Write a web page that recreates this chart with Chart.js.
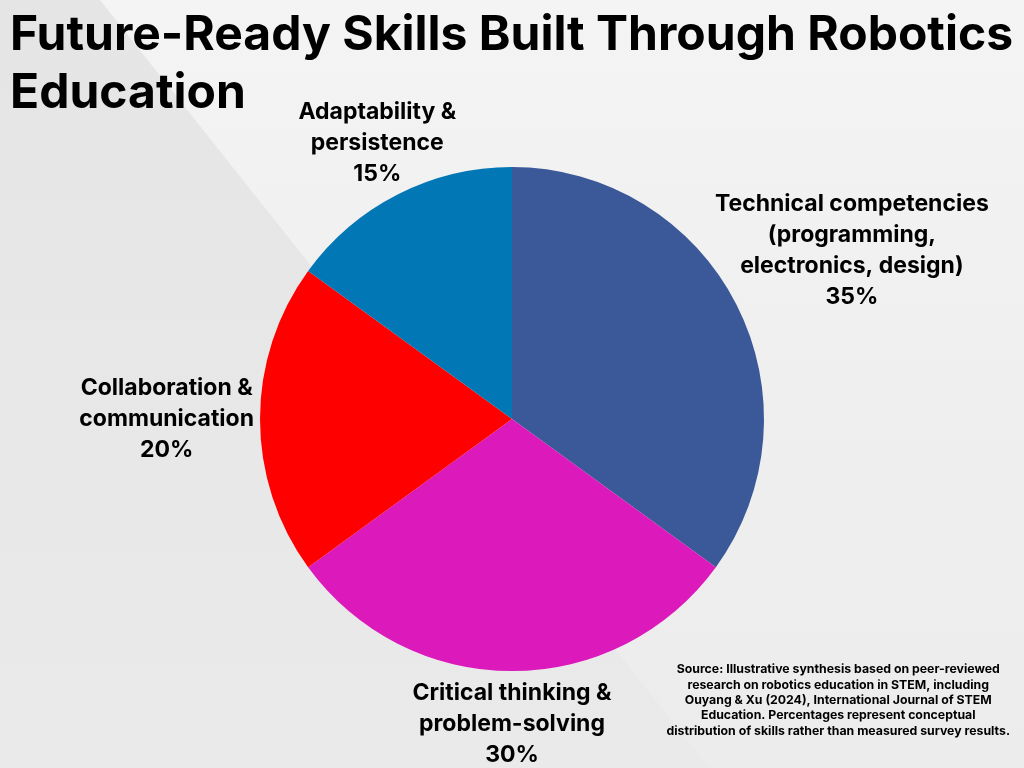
<!DOCTYPE html>
<html><head><meta charset="utf-8">
<script src="https://cdn.jsdelivr.net/npm/chart.js@4.4.0/dist/chart.umd.min.js"></script>
<style>html,body{margin:0;padding:0;background:#ececec;overflow:hidden}#wrap{width:1024px;height:768px;position:relative}</style>
</head><body><div id="wrap"><canvas id="c" width="1024" height="768"></canvas></div>
<script>
// ---- data ----
const categories = [
  ["Technical competencies", "(programming,", "electronics, design)"],
  ["Critical thinking &", "problem-solving"],
  ["Collaboration &", "communication"],
  ["Adaptability &", "persistence"]
];
const shares = [35, 30, 20, 15];
const sliceColors = ["#3B5998", "#DC1ABC", "#FF0000", "#0277B6"];
const titleLines = ["Future-Ready Skills Built Through Robotics", "Education"];
const sourceLines = [
  "Source: Illustrative synthesis based on peer-reviewed",
  "research on robotics education in STEM, including",
  "Ouyang & Xu (2024), International Journal of STEM",
  "Education. Percentages represent conceptual",
  "distribution of skills rather than measured survey results."
];

const FONT = "Inter, 'Open Sans', 'DejaVu Sans', sans-serif";

const bgPlugin = {
  id: 'bg',
  beforeDraw(chart) {
    const ctx = chart.ctx, W = chart.width, H = chart.height;
    ctx.save();
    const g = ctx.createLinearGradient(0, 0, 0, H);
    g.addColorStop(0, '#f4f4f4');
    g.addColorStop(0.5, '#efefef');
    g.addColorStop(1, '#ececec');
    ctx.fillStyle = g;
    ctx.fillRect(0, 0, W, H);
    ctx.beginPath();
    ctx.moveTo(0, 0);
    ctx.lineTo(100, 0);
    ctx.lineTo(100 + H / 1.26, H);
    ctx.lineTo(0, H);
    ctx.closePath();
    const g2 = ctx.createLinearGradient(0, 0, 0, H);
    g2.addColorStop(0, '#e5e5e5');
    g2.addColorStop(1, '#eaeaea');
    ctx.fillStyle = g2;
    ctx.fill();
    ctx.restore();
  }
};

const labelPlugin = {
  id: 'sliceLabels',
  afterDatasetsDraw(chart) {
    const ctx = chart.ctx;
    const meta = chart.getDatasetMeta(0);
    const size = 23, lineH = 31, gap = 6;
    ctx.save();
    ctx.font = `bold ${size}px ${FONT}`;
    ctx.fillStyle = '#000';
    ctx.textAlign = 'center';
    ctx.textBaseline = 'middle';
    meta.data.forEach((arc, i) => {
      const p = arc.getProps(['x', 'y', 'startAngle', 'endAngle', 'outerRadius'], true);
      const mid = (p.startAngle + p.endAngle) / 2;
      const vx = Math.cos(mid), vy = Math.sin(mid);
      const lines = categories[i].concat([shares[i] + '%']);
      const w = Math.max(...lines.map(l => ctx.measureText(l).width));
      const h = lines.length * lineH;
      const ax = p.x + vx * (p.outerRadius + gap);
      const ay = p.y + vy * (p.outerRadius + gap);
      const cx = ax + Math.sign(vx) * Math.pow(Math.abs(vx), 1.9) * w / 2;
      const cy = ay + Math.max(-1, Math.min(1, vy / 0.55)) * h / 2;
      lines.forEach((l, k) => ctx.fillText(l, cx, cy - h / 2 + lineH * (k + 0.5)));
    });
    ctx.restore();
  }
};

const sourcePlugin = {
  id: 'sourceNote',
  afterDraw(chart) {
    const ctx = chart.ctx;
    ctx.save();
    ctx.font = `bold 12.3px ${FONT}`;
    ctx.fillStyle = '#000';
    ctx.textAlign = 'center';
    ctx.textBaseline = 'middle';
    const w = Math.max(...sourceLines.map(l => ctx.measureText(l).width));
    const cx = chart.width - 14 - w / 2;
    const lh = 15.3;
    const y0 = chart.height - 37 - lh * (sourceLines.length - 1);
    sourceLines.forEach((l, k) => ctx.fillText(l, cx, y0 + k * lh));
    ctx.restore();
  }
};

new Chart(document.getElementById('c'), {
  type: 'pie',
  data: {
    labels: categories,
    datasets: [{
      data: shares,
      backgroundColor: sliceColors,
      borderWidth: 0,
      radius: 252
    }]
  },
  options: {
    responsive: false,
    devicePixelRatio: 1,
    animation: false,
    layout: { padding: { left: 10, right: 10, top: 0, bottom: 52 } },
    plugins: {
      legend: { display: false },
      tooltip: { enabled: false },
      title: {
        display: true,
        text: titleLines,
        align: 'start',
        color: '#000',
        font: { family: FONT, size: 48, weight: 'bold', lineHeight: 1.2 },
        padding: { top: 7, bottom: 0 }
      }
    }
  },
  plugins: [bgPlugin, labelPlugin, sourcePlugin]
});
</script>
</body></html>
